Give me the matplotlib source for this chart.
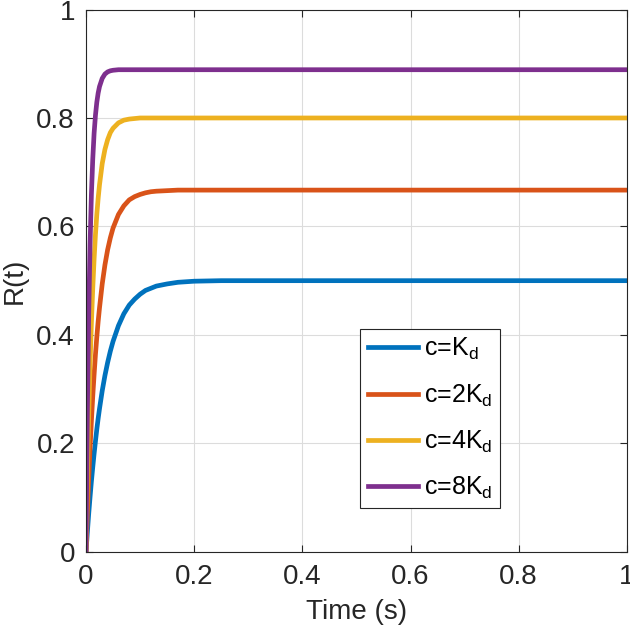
import matplotlib
matplotlib.use("Agg")
import matplotlib.pyplot as plt

plt.rcParams["font.family"] = ["Liberation Sans", "DejaVu Sans"]
plt.rcParams["mathtext.fontset"] = "custom"
plt.rcParams["mathtext.rm"] = "Liberation Sans"
plt.rcParams["mathtext.it"] = "Liberation Sans"

# values
time = [0, 0.0025, 0.005, 0.0075, 0.01, 0.0125, 0.015, 0.0175, 0.02, 0.0225,
        0.025, 0.03, 0.035, 0.04, 0.045, 0.05, 0.06, 0.07, 0.08, 0.09,
        0.1, 0.11, 0.12, 0.13, 0.15, 0.17, 0.2, 0.25, 0.3, 1.0]
r_1kd = [0, 0.036, 0.070, 0.101, 0.130, 0.156, 0.181, 0.204, 0.226, 0.246,
         0.264, 0.297, 0.325, 0.349, 0.370, 0.388, 0.417, 0.439, 0.455, 0.466,
         0.475, 0.482, 0.486, 0.490, 0.494, 0.497, 0.499, 0.500, 0.500, 0.500]
r_2kd = [0, 0.071, 0.134, 0.191, 0.241, 0.287, 0.327, 0.364, 0.396, 0.425,
         0.450, 0.494, 0.529, 0.557, 0.579, 0.597, 0.622, 0.638, 0.649, 0.655,
         0.659, 0.662, 0.664, 0.665, 0.666, 0.667, 0.667, 0.667, 0.667, 0.667]
r_4kd = [0, 0.137, 0.250, 0.344, 0.422, 0.486, 0.540, 0.585, 0.622, 0.652,
         0.677, 0.716, 0.742, 0.760, 0.773, 0.781, 0.791, 0.796, 0.798, 0.799,
         0.800, 0.800, 0.800, 0.800, 0.800, 0.800, 0.800, 0.800, 0.800, 0.800]
r_8kd = [0, 0.254, 0.436, 0.566, 0.659, 0.724, 0.772, 0.805, 0.829, 0.846,
         0.858, 0.873, 0.881, 0.885, 0.887, 0.888, 0.889, 0.889, 0.889, 0.889,
         0.889, 0.889, 0.889, 0.889, 0.889, 0.889, 0.889, 0.889, 0.889, 0.889]

labels = ["c=K$_d$", "c=2K$_d$", "c=4K$_d$", "c=8K$_d$"]
colors = ["#0072BD", "#D95319", "#EDB120", "#7E2F8E"]

fig = plt.figure(figsize=(6.3, 6.35), dpi=100)
ax = fig.add_axes([0.1365, 0.131, 0.8585, 0.854])

for series, lab, col in zip([r_1kd, r_2kd, r_4kd, r_8kd], labels, colors):
    ax.plot(time, series, color=col, lw=3.4, label=lab,
            solid_joinstyle="round")

ax.set_xlim(0, 1)
ax.set_ylim(0, 1)
ax.set_xticks([0, 0.2, 0.4, 0.6, 0.8, 1])
ax.set_yticks([0, 0.2, 0.4, 0.6, 0.8, 1])
ax.set_xticklabels(["0", "0.2", "0.4", "0.6", "0.8", "1"])
ax.set_yticklabels(["0", "0.2", "0.4", "0.6", "0.8", "1"])
ax.grid(True, color="#dcdcdc", lw=0.8)
ax.set_axisbelow(True)
ax.tick_params(direction="in", length=5, width=0.8, labelsize=20,
               colors="#262626", top=True, right=True)
ax.tick_params(axis="y", pad=8)
ax.tick_params(axis="x", pad=9)
for s in ax.spines.values():
    s.set_color("#262626")
    s.set_linewidth(0.8)

ax.set_xlabel("Time (s)", fontsize=20, color="#262626", labelpad=6)
ax.set_ylabel("R(t)", fontsize=20, color="#262626", labelpad=6)

leg = ax.legend(loc="lower left", bbox_to_anchor=(0.507, 0.08), fontsize=18,
                handlelength=2.0, fancybox=False, framealpha=1,
                edgecolor="#262626", borderpad=0.3, labelspacing=0.8,
                handletextpad=0.25, borderaxespad=0)
leg.get_frame().set_linewidth(0.8)

fig.savefig("out.png", dpi=100)
